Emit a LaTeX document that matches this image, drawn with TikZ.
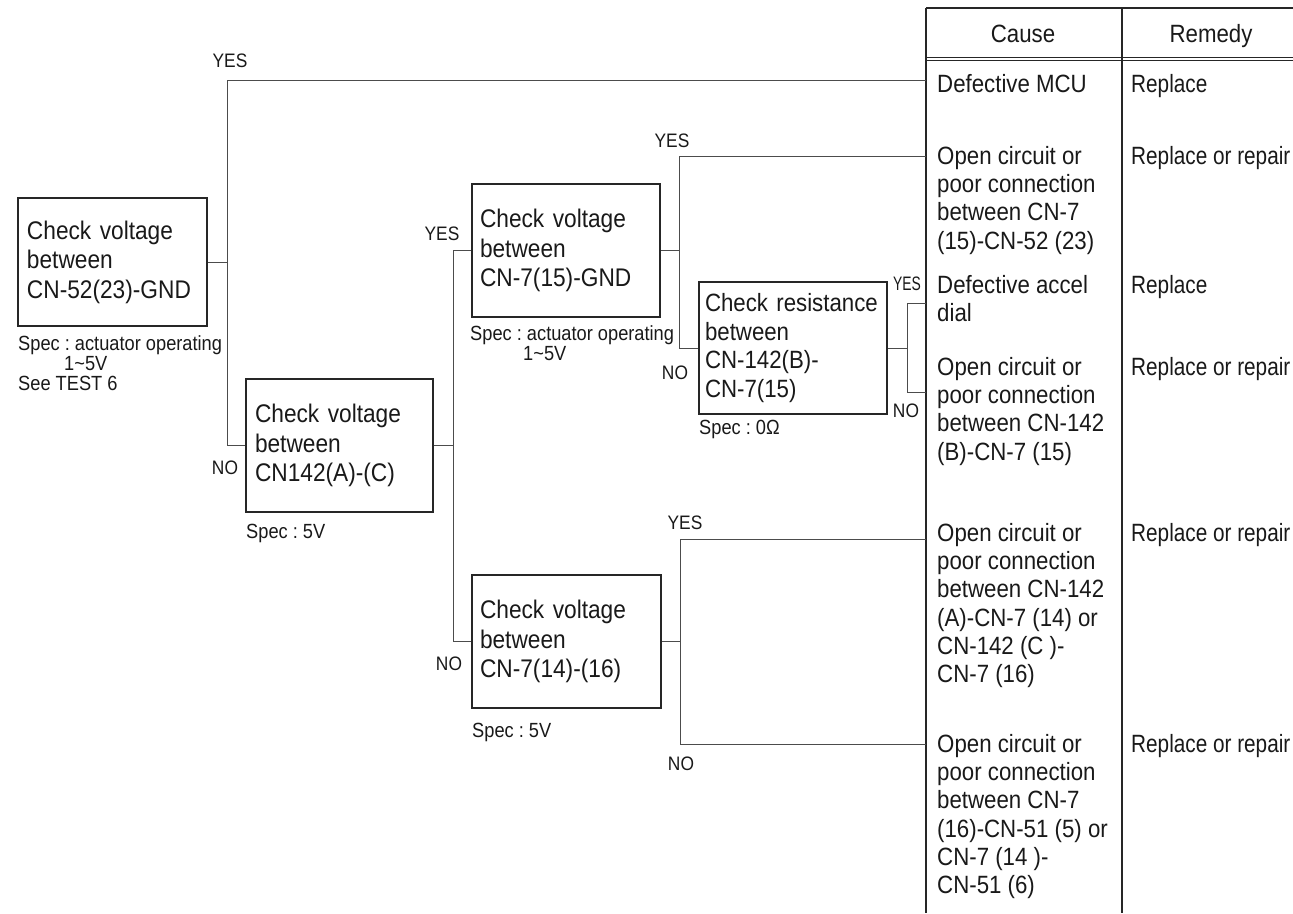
\documentclass[tikz,border=0pt]{standalone}
\usepackage{fontspec}
\usepackage{graphicx}
\setmainfont{Liberation Sans}[FakeStretch=0.89]
\newfontfamily\remfont{Liberation Sans}[FakeStretch=0.83]
\usetikzlibrary{calc}
\begin{document}
\frenchspacing
\hyphenpenalty=10000
\exhyphenpenalty=10000
\begin{tikzpicture}[x=1pt,y=-1pt,
  every node/.style={text=black!90},
  checkbox/.style={draw=black!85,line width=1.2pt,rectangle,align=left,inner ysep=0pt,font=\fontsize{25.5}{29.5}\selectfont},
  conn/.style={draw=black!70,line width=1pt},
  rule/.style={draw=black!85,line width=1.2pt},
  lbl/.style={inner sep=0pt,anchor=base,font=\fontsize{19.5}{20}\selectfont},
  spec/.style={inner sep=0pt,anchor=base west,font=\fontsize{20.5}{21}\selectfont},
  cell/.style={inner sep=0pt,anchor=north west,align=left,font=\fontsize{25}{28.3}\selectfont},
  remcell/.style={cell,font=\remfont\fontsize{25}{28.3}\selectfont},
]
\useasboundingbox (0,0) rectangle (1293,913);

% decision boxes
\node[checkbox, inner xsep=9pt, text width=171pt, minimum height=128pt] (b1) at (112.5,262) {\mbox{Check voltage}\\between\\\mbox{CN-52(23)-GND}};
\node[checkbox, inner xsep=9pt, text width=169pt, minimum height=133pt] (b2) at (339.5,445.5) {\mbox{Check voltage}\\between\\\mbox{CN142(A)-(C)}};
\node[checkbox, inner xsep=8pt, text width=172pt, minimum height=133pt] (b3) at (566,250.5) {\mbox{Check voltage}\\between\\\mbox{CN-7(15)-GND}};
\node[checkbox, inner xsep=6pt, text width=176pt, minimum height=132pt, font=\fontsize{25}{28.5}\selectfont] (b5) at (793,348) {\mbox{Check resistance}\\between\\\mbox{CN-142(B)-}\\\mbox{CN-7(15)}};
\node[checkbox, inner xsep=8pt, text width=173pt, minimum height=133pt] (b4) at (566.5,641.5) {\mbox{Check voltage}\\between\\\mbox{CN-7(14)-(16)}};

% specs
\node[spec] (s1a) at (18,350) {Spec : actuator operating};
\node[spec] (s1b) at (64,370) {1\textasciitilde 5V};
\node[spec] (s1c) at (18,390) {See TEST 6};
\node[spec] (s3a) at (470,340) {Spec : actuator operating};
\node[spec] (s3b) at (523,360) {1\textasciitilde 5V};
\node[spec] (s5) at (699,434) {Spec : 0Ω};
\node[spec] (s2) at (246,538) {Spec : 5V};
\node[spec] (s4) at (472,737) {Spec : 5V};

% table
\draw[rule] (926,8) -- (926,913);
\draw[rule] (1122,8) -- (1122,913);
\draw[rule] (926,8) -- (1293,8);
\draw[rule,line width=1pt] (926,57) -- (1293,57);
\draw[rule,line width=1pt] (926,60.5) -- (1293,60.5);

\node[cell,anchor=base] (hc) at (1023,42) {Cause};
\node[cell,anchor=base] (hr) at (1211,42) {Remedy};

\node[cell] (c1) at (937,74) {Defective MCU};
\node[remcell] (r1) at (1131,74) {Replace};
\node[cell] (c2) at (937,146) {Open circuit or\\poor connection\\between CN-7\\(15)-CN-52 (23)};
\node[remcell] (r2) at (1131,146) {Replace or repair};
\node[cell] (c3) at (937,275) {Defective accel\\dial};
\node[remcell] (r3) at (1131,275) {Replace};
\node[cell] (c4) at (937,357) {Open circuit or\\poor connection\\between CN-142\\(B)-CN-7 (15)};
\node[remcell] (r4) at (1131,357) {Replace or repair};
\node[cell] (c5) at (937,523) {Open circuit or\\poor connection\\between CN-142\\(A)-CN-7 (14) or\\CN-142 (C )-\\CN-7 (16)};
\node[remcell] (r5) at (1131,523) {Replace or repair};
\node[cell] (c6) at (937,734) {Open circuit or\\poor connection\\between CN-7\\(16)-CN-51 (5) or\\CN-7 (14 )-\\CN-51 (6)};
\node[remcell] (r6) at (1131,734) {Replace or repair};

% table entry points
\coordinate (t1) at (926,80);
\coordinate (t2) at (926,156);
\coordinate (t3) at (926,303);
\coordinate (t4) at (926,392);
\coordinate (t5) at (926,539);
\coordinate (t6) at (926,744);

% connectors
\draw[conn] (b1.east) -- ++(20,0) coordinate (j1);
\draw[conn] (t1) -| (j1) |- (b2.west);
\draw[conn] (b2.east) -- ++(20,0) coordinate (j2);
\draw[conn] (b3.west) -| (j2) |- (b4.west);
\draw[conn] (b3.east) -- ++(19,0) coordinate (j3);
\draw[conn] (t2) -| (j3) |- (b5.west);
\draw[conn] (b5.east) -- ++(20,0) coordinate (j5);
\draw[conn] (t3) -| (j5) |- (t4);
\draw[conn] (b4.east) -- ++(19,0) coordinate (j4);
\draw[conn] (t5) -| (j4) |- (t6);

% YES / NO labels
\node[lbl] (y1) at (230,67) {YES};
\node[lbl] (n1) at (225,474) {NO};
\node[lbl] (y2) at (442,240) {YES};
\node[lbl] (y3) at (672,147) {YES};
\node[lbl] (n2) at (675,379) {NO};
\node[lbl] (y4) at (907,290) {\scalebox{0.8}[1]{YES}};
\node[lbl] (n3) at (906,417) {NO};
\node[lbl] (n4) at (449,670) {NO};
\node[lbl] (y5) at (685,529) {YES};
\node[lbl] (n5) at (681,770) {NO};
\end{tikzpicture}
\end{document}
